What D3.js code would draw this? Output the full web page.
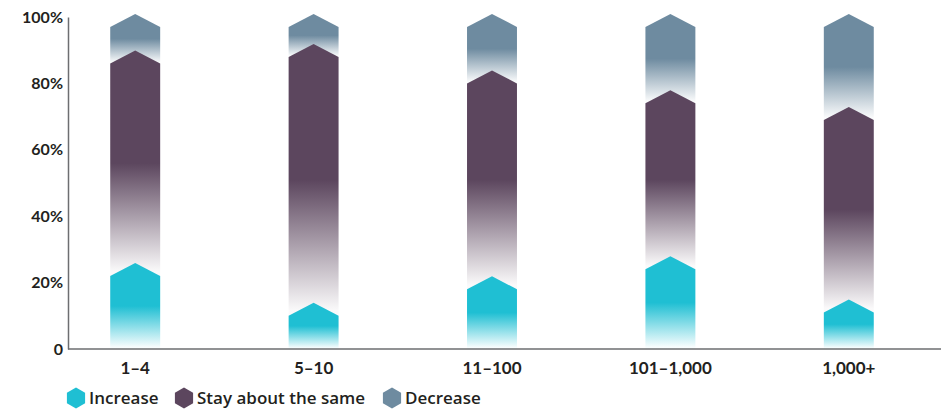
<!DOCTYPE html>
<html>
<head>
    <meta charset="UTF-8">
    <title>chart</title>
    <style>
        body { margin: 0; background: #fff; }
        text { font-family: Lato, "Open Sans", sans-serif; font-weight: 700; fill: #231f20; }
        .legend text { font-family: "Open Sans", sans-serif; font-weight: 600; }
    </style>
</head>
<body>
    <script src="https://cdn.jsdelivr.net/npm/d3@7"></script>
    <svg id="chart" width="941" height="411"></svg>
    <script>
        // data (percent)
        const categories = ["1–4", "5–10", "11–100", "101–1,000", "1,000+"];
        const increase = [25, 13, 21, 27, 14];
        const stay = [64, 78, 62, 50, 58];
        const decrease = [11, 9, 17, 23, 28];
        const seriesNames = ["Increase", "Stay about the same", "Decrease"];
        const seriesColors = ["#1fbfd3", "#5c465e", "#6e8ba0"];
        const yTicks = [0, 20, 40, 60, 80, 100];

        const svg = d3.select("#chart");
        const width = 941, height = 411;

        const x = d3.scaleBand()
            .domain(categories)
            .range([46, 938])
            .paddingInner(0.72)
            .paddingOuter(0.36);
        const y = d3.scaleLinear().domain([0, 100]).range([349, 17]);

        const rows = categories.map((c, i) => ({ cat: c, Increase: increase[i], "Stay about the same": stay[i], Decrease: decrease[i] }));
        const stacked = d3.stack().keys(seriesNames)(rows);

        // gradients: solid top half, fading out toward the bottom
        const defs = svg.append("defs");
        seriesNames.forEach((s, i) => {
            const g = defs.append("linearGradient")
                .attr("id", "grad" + i)
                .attr("x1", 0).attr("y1", 0).attr("x2", 0).attr("y2", 1);
            g.append("stop").attr("offset", 0).attr("stop-color", seriesColors[i]);
            g.append("stop").attr("offset", 0.5).attr("stop-color", seriesColors[i]);
            g.append("stop").attr("offset", 0.98).attr("stop-color", seriesColors[i]).attr("stop-opacity", 0.03);
        });

        const peakUp = 3, shoulderDown = 10;
        const segPath = function (d) {
            const x0 = x(d.data.cat), w = x.bandwidth(), xm = x0 + w / 2;
            const top = y(d[1]);
            // bottom sits on the shoulder of the segment below (or the axis)
            const bottom = d[0] === 0 ? y(0) : y(d[0]) + shoulderDown;
            return `M${x0},${bottom}L${x0},${top + shoulderDown}L${xm},${top - peakUp}L${x0 + w},${top + shoulderDown}L${x0 + w},${bottom}Z`;
        };

        // draw the top series first so lower peaks overlap them
        for (let i = stacked.length - 1; i >= 0; i--) {
            svg.append("g")
                .selectAll("path")
                .data(stacked[i])
                .join("path")
                .attr("d", segPath)
                .attr("fill", "url(#grad" + i + ")");
        }

        // axes
        const yAxis = svg.append("g")
            .attr("transform", "translate(68,0)")
            .call(d3.axisLeft(y).tickValues(yTicks).tickSize(0).tickPadding(5)
                .tickFormat(d => d === 0 ? "0" : d + "%"));
        yAxis.select(".domain").attr("stroke", "#6d6e71").attr("stroke-width", 1.5);
        yAxis.selectAll("text").style("font-size", "16px");

        const xAxis = svg.append("g")
            .attr("transform", "translate(0,349)")
            .call(d3.axisBottom(x).tickSize(0).tickPadding(13));
        xAxis.select(".domain").attr("d", "M68,0H941").attr("stroke", "#6d6e71").attr("stroke-width", 1.5);
        xAxis.selectAll("text").style("font-size", "17px");

        // legend
        const hex = function (cx, cy, r) {
            const pts = d3.range(6).map(k => {
                const a = Math.PI / 3 * k - Math.PI / 2;
                return [cx + r * Math.cos(a), cy + r * Math.sin(a)];
            });
            return "M" + pts.join("L") + "Z";
        };
        const legendX = [76, 184, 392];
        const legend = svg.append("g").attr("class", "legend");
        seriesNames.forEach((s, i) => {
            legend.append("path").attr("d", hex(legendX[i], 398, 10.5)).attr("fill", seriesColors[i]);
            legend.append("text")
                .attr("x", legendX[i] + 13)
                .attr("y", 398)
                .attr("dy", "0.35em")
                .style("font-size", "17px")
                .text(s);
        });
    </script>
</body>
</html>
